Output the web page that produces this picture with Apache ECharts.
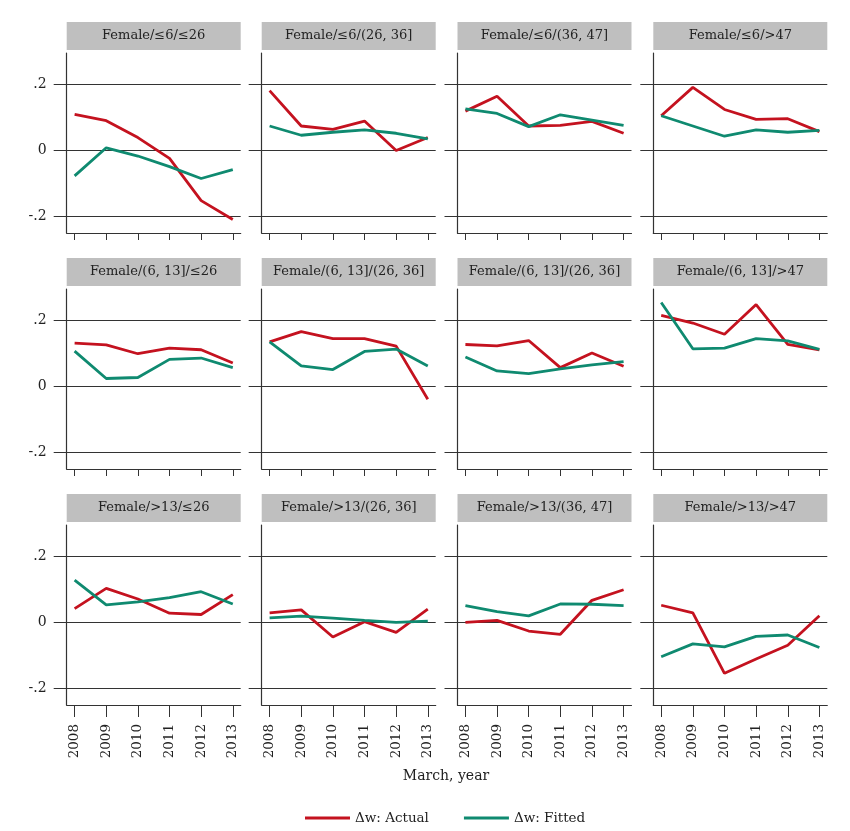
<!DOCTYPE html>
<html>
<head>
<meta charset="utf-8">
<script src="https://cdn.jsdelivr.net/npm/echarts@6/dist/echarts.min.js"></script>
<style>html,body{margin:0;padding:0;background:#fff}#c{width:850px;height:831px}</style>
</head>
<body>
<div id="c"></div>
<script>
const years = [2008, 2009, 2010, 2011, 2012, 2013];
const panelTitles = [
  'Female/≤6/≤26', 'Female/≤6/(26, 36]', 'Female/≤6/(36, 47]', 'Female/≤6/>47',
  'Female/(6, 13]/≤26', 'Female/(6, 13]/(26, 36]', 'Female/(6, 13]/(26, 36]', 'Female/(6, 13]/>47',
  'Female/>13/≤26', 'Female/>13/(26, 36]', 'Female/>13/(36, 47]', 'Female/>13/>47'
];
const actual = [
  [0.109, 0.090, 0.039, -0.024, -0.152, -0.209],
  [0.181, 0.074, 0.064, 0.089, 0.000, 0.039],
  [0.119, 0.164, 0.074, 0.076, 0.088, 0.052],
  [0.105, 0.191, 0.124, 0.094, 0.096, 0.057],
  [0.131, 0.126, 0.099, 0.116, 0.111, 0.071],
  [0.135, 0.166, 0.145, 0.145, 0.122, -0.039],
  [0.127, 0.123, 0.139, 0.057, 0.101, 0.061],
  [0.215, 0.192, 0.158, 0.248, 0.127, 0.111],
  [0.042, 0.103, 0.071, 0.028, 0.024, 0.084],
  [0.029, 0.038, -0.044, 0.002, -0.030, 0.040],
  [0.000, 0.006, -0.026, -0.036, 0.067, 0.099],
  [0.052, 0.029, -0.154, -0.111, -0.069, 0.020]
];
const fitted = [
  [-0.077, 0.008, -0.017, -0.049, -0.085, -0.058],
  [0.074, 0.046, 0.055, 0.062, 0.052, 0.035],
  [0.126, 0.112, 0.072, 0.108, 0.092, 0.076],
  [0.105, 0.074, 0.043, 0.062, 0.055, 0.061],
  [0.107, 0.024, 0.027, 0.082, 0.086, 0.057],
  [0.135, 0.062, 0.051, 0.106, 0.113, 0.062],
  [0.089, 0.047, 0.039, 0.053, 0.065, 0.075],
  [0.254, 0.114, 0.116, 0.145, 0.138, 0.112],
  [0.128, 0.053, 0.062, 0.075, 0.093, 0.056],
  [0.014, 0.019, 0.013, 0.006, 0.000, 0.004],
  [0.051, 0.033, 0.020, 0.056, 0.055, 0.051],
  [-0.104, -0.065, -0.074, -0.042, -0.038, -0.076]
];
const yTicks = [-0.2, 0, 0.2];
const yTickLabels = ['-.2', '0', '.2'];
const seriesNames = ['Δw: Actual', 'Δw: Fitted'];

const RED = '#c4121f', GREEN = '#0f8a70', LINE = '#333';
const FONT = 'DejaVu Serif';
const lefts = [66.7, 261.7, 457.5, 653.3];
const tops = [53, 289, 525];
const W = 174, H = 180;

const grids = [], xAxes = [], yAxes = [], series = [], graphics = [];
for (let i = 0; i < 12; i++) {
  const r = Math.floor(i / 4), c = i % 4;
  grids.push({ left: lefts[c], top: tops[r], width: W, height: H, containLabel: false });
  xAxes.push({
    type: 'value', gridIndex: i, min: 2007.75, max: 2013.25, position: 'bottom',
    axisLine: { show: true, onZero: false, lineStyle: { color: LINE, width: 1.2 } },
    axisTick: { show: true, customValues: years, length: r === 2 ? 12 : 7, lineStyle: { color: LINE } },
    axisLabel: { show: r === 2, customValues: years, rotate: 90, margin: 19, fontFamily: FONT, fontSize: 13.5, color: '#222', formatter: v => String(v) },
    splitLine: { show: false }
  });
  yAxes.push({
    type: 'value', gridIndex: i, min: -0.25, max: 0.295, position: 'left',
    axisLine: { show: true, onZero: false, lineStyle: { color: LINE, width: 1.2 } },
    axisTick: { show: true, customValues: yTicks, length: 13, lineStyle: { color: LINE } },
    axisLabel: { show: c === 0, customValues: yTicks, margin: 20, fontFamily: FONT, fontSize: 14, color: '#222',
      formatter: v => yTickLabels[yTicks.findIndex(t => Math.abs(t - v) < 1e-6)] },
    splitLine: { show: true, lineStyle: { color: LINE, width: 1 } }
  });
  series.push({
    name: seriesNames[0], type: 'line', xAxisIndex: i, yAxisIndex: i,
    data: years.map((y, k) => [y, actual[i][k]]), showSymbol: false, symbol: 'none',
    lineStyle: { color: RED, width: 2.8 }, itemStyle: { color: RED }, z: 3
  });
  series.push({
    name: seriesNames[1], type: 'line', xAxisIndex: i, yAxisIndex: i,
    data: years.map((y, k) => [y, fitted[i][k]]), showSymbol: false, symbol: 'none',
    lineStyle: { color: GREEN, width: 2.8 }, itemStyle: { color: GREEN }, z: 4
  });
  graphics.push({
    type: 'rect', left: lefts[c], top: tops[r] - 31,
    shape: { width: W, height: 28 }, style: { fill: '#bfbfbf' }, silent: true
  });
  graphics.push({
    type: 'text', x: lefts[c] + W / 2, y: tops[r] - 17,
    style: { text: panelTitles[i], fontFamily: FONT, fontSize: 13, fill: '#222', align: 'center', verticalAlign: 'middle' },
    silent: true
  });
}
graphics.push({
  type: 'text', x: 446, y: 776,
  style: { text: 'March, year', fontFamily: FONT, fontSize: 14, fill: '#222', align: 'center', verticalAlign: 'middle' }
});

const chart = echarts.init(document.getElementById('c'), null, { renderer: 'canvas' });
chart.setOption({
  animation: false,
  backgroundColor: '#fff',
  grid: grids, xAxis: xAxes, yAxis: yAxes, series: series, graphic: graphics,
  legend: {
    data: seriesNames, left: 300, top: 806, icon: 'rect', itemWidth: 45, itemHeight: 3, itemGap: 35,
    textStyle: { fontFamily: FONT, fontSize: 13.5, color: '#222' }
  }
});
</script>
</body>
</html>
